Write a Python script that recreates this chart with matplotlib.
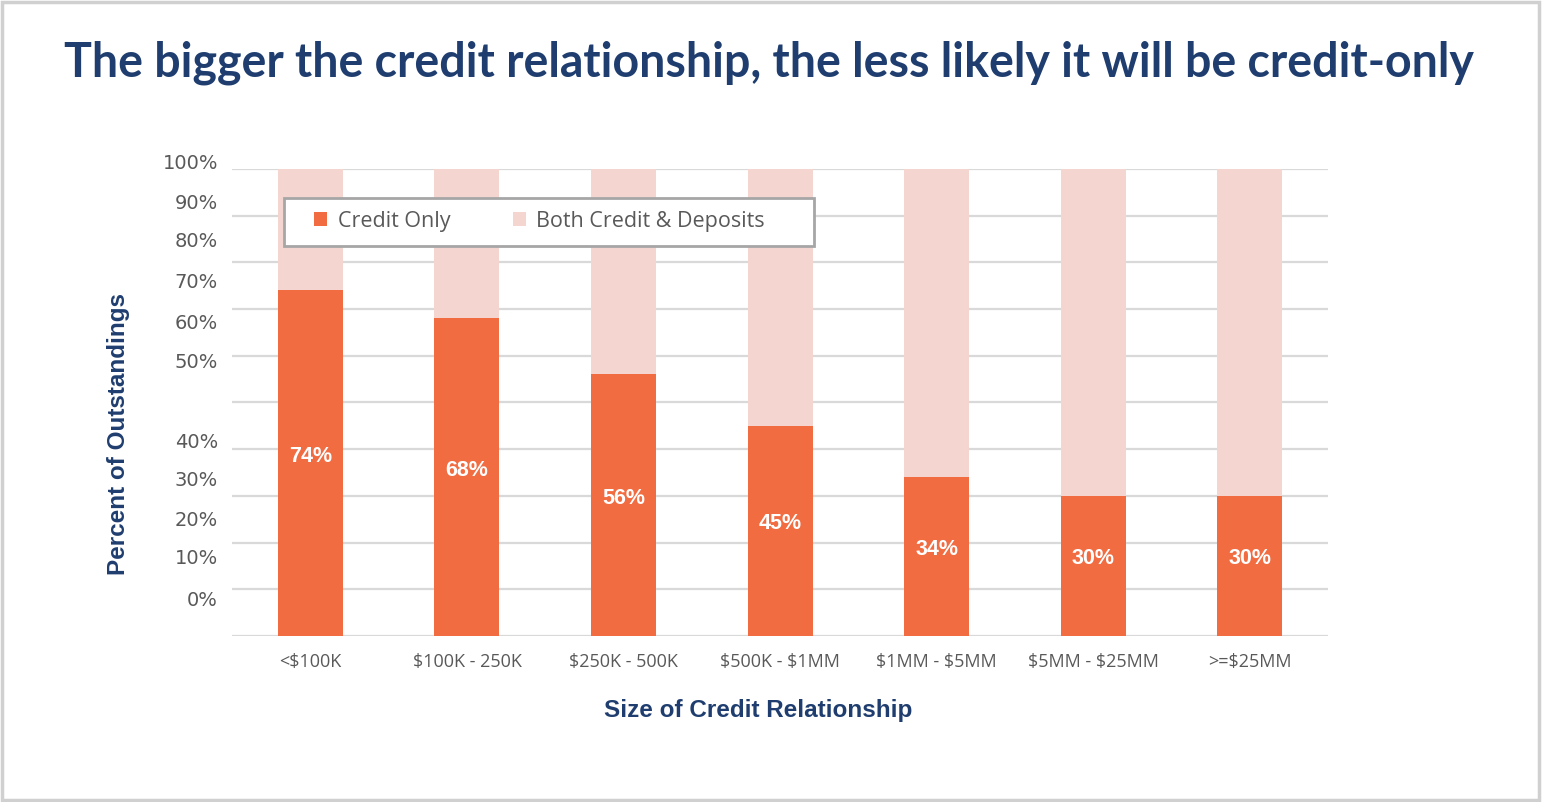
import matplotlib.pyplot as plt
import numpy as np
from matplotlib.patches import Rectangle

categories = ["<\\$100K", "\\$100K - 250K", "\\$250K - 500K", "\\$500K - \\$1MM",
              "\\$1MM - \\$5MM", "\\$5MM - \\$25MM", ">=\\$25MM"]
credit_only = [74, 68, 56, 45, 34, 30, 30]
both = [100 - v for v in credit_only]
y_tick_labels = ["100%", "90%", "80%", "70%", "60%", "50%",
                 "40%", "30%", "20%", "10%", "0%"]

navy = "#1F3E6F"
orange = "#F26C42"
pink = "#F5D5CF"
grey_text = "#595959"

fig = plt.figure(figsize=(15.42, 8.02), dpi=100)
ax = fig.add_axes([0.1505, 0.2070, 0.7108, 0.5823])

x = np.arange(len(categories))
b1 = ax.bar(x, credit_only, width=0.415, color=orange, zorder=2, label="Credit Only")
b2 = ax.bar(x, both, width=0.415, bottom=credit_only, color=pink, zorder=2,
            label="Both Credit & Deposits")

for xi, v in zip(x, credit_only):
    ax.text(xi, v / 2 + 1.5, f"{v}%", ha="center", va="center", color="white",
            fontsize=15.5, fontweight="bold", family="Liberation Sans", zorder=3)

# gridlines every 10%
for g in range(0, 101, 10):
    ax.axhline(g, color="#D9D9D9", lw=1.6, zorder=1)

ax.set_xlim(-0.5, len(categories) - 0.5)
ax.set_ylim(0, 100)
for s in ax.spines.values():
    s.set_visible(False)

# the percentage labels sit off the gridlines in this layout, so they are
# placed as text rather than as tick labels
ax.set_yticks([])
label_pos = [101.1, 92.7, 84.4, 75.6, 67.0, 58.5, 41.5, 33.4, 24.8, 16.5, 7.5]
for yp, lab in zip(label_pos, y_tick_labels):
    ax.text(-0.0128, yp, lab, transform=ax.get_yaxis_transform(), ha="right",
            va="center", fontsize=14, color=grey_text, family="DejaVu Sans",
            clip_on=False)

ax.set_xticks(x)
ax.set_xticklabels(categories, fontsize=13, color=grey_text, family="Open Sans")
ax.tick_params(axis="x", length=0, pad=12)

fig.text(118 / 1542, 1 - 434 / 802, "Percent of Outstandings", rotation=90,
         ha="center", va="center", fontsize=17.5, fontweight="bold", color=navy,
         family="Liberation Sans")
fig.text(758 / 1542, 1 - 711 / 802, "Size of Credit Relationship",
         ha="center", va="center", fontsize=17.5, fontweight="bold", color=navy,
         family="Liberation Sans")

fig.text(769 / 1542, 1 - 63 / 802,
         "The bigger the credit relationship, the less likely it will be credit-only",
         ha="center", va="center", fontsize=33.5, fontweight="bold", color=navy,
         family="Lato")

# legend box, drawn separately so the padding can be uneven
fig.patches.append(Rectangle((284 / 1542, 1 - 246 / 802), 530 / 1542, 48 / 802,
                             transform=fig.transFigure, facecolor="white",
                             edgecolor="#A6A6A6", lw=2, zorder=5))
leg = fig.legend(handles=[b1, b2], loc="center left",
                 bbox_to_anchor=(314 / 1542, 1 - 221 / 802), ncol=2,
                 frameon=False, borderaxespad=0, borderpad=0,
                 prop={"family": "Open Sans", "size": 15.5},
                 handlelength=0.6, handleheight=0.6, handletextpad=0.5,
                 columnspacing=2.9)
leg.set_zorder(6)
for t in leg.get_texts():
    t.set_color(grey_text)

# light border round the whole picture
fig.patches.append(Rectangle((0.001, 0.002), 0.997, 0.996, transform=fig.transFigure,
                             fill=False, edgecolor="#D0D0D0", lw=2.5))

fig.savefig("out.png", dpi=100)
